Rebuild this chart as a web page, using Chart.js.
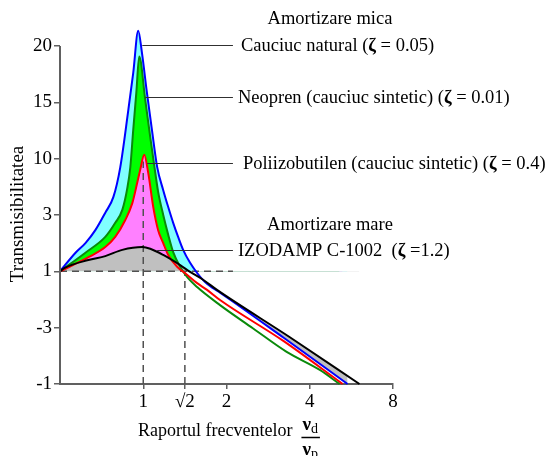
<!DOCTYPE html>
<html><head><meta charset="utf-8">
<script src="https://cdn.jsdelivr.net/npm/chart.js@4.4.0/dist/chart.umd.min.js"></script>
<style>html,body{margin:0;padding:0;background:#fff;}#wrap{width:554px;height:456px;position:relative;}</style>
</head><body><div id="wrap"><canvas id="c" width="554" height="456"></canvas></div>
<script>
// ---- tick labels ----
const yTickLabels = ['-1', '-3', '1', '3', '10', '15', '20'];
const xTickValues = [1, Math.SQRT2, 2, 4, 8];
const xTickLabels = ['1', '√2', '2', '4', '8'];

// ---- series (x = frequency ratio, y = position on the transmissibility axis) ----
const blueX = [0.5, 0.569, 0.618, 0.671, 0.729, 0.78, 0.826, 0.883, 0.92, 0.959, 0.989, 1.031, 1.075, 1.123, 1.181, 1.231, 1.283, 1.337, 1.394, 1.477, 1.566, 1.673, 1.788, 1.895, 3.22, 5.48];
const blueY = [2.0, 2.33, 2.5, 2.73, 3.04, 3.32, 3.85, 4.86, 5.52, 6.27, 5.88, 5.17, 4.51, 3.85, 3.44, 3.14, 2.86, 2.61, 2.38, 2.15, 1.97, 1.81, 1.70, 1.62, 0.82, 0.0];

const greenX = [0.5, 0.618, 0.729, 0.792, 0.84, 0.876, 0.898, 0.92, 0.944, 0.967, 1.017, 1.06, 1.095, 1.132, 1.181, 1.231, 1.283, 1.359, 1.44, 1.566, 1.895, 2.49, 3.30, 4.35, 5.13];
const greenY = [2.0, 2.33, 2.61, 2.86, 3.09, 3.48, 3.85, 4.51, 5.17, 5.81, 5.04, 4.38, 3.89, 3.41, 3.0, 2.65, 2.34, 2.08, 1.90, 1.72, 1.40, 0.99, 0.57, 0.25, 0.0];

const redX = [0.5, 0.634, 0.729, 0.792, 0.861, 0.913, 0.951, 0.975, 1.008, 1.042, 1.087, 1.132, 1.181, 1.231, 1.326, 1.44, 1.566, 1.701, 1.895, 3.22, 5.26];
const redY = [2.0, 2.25, 2.43, 2.61, 2.91, 3.21, 3.57, 3.80, 4.07, 3.75, 3.14, 2.73, 2.50, 2.29, 2.08, 1.94, 1.79, 1.67, 1.49, 0.76, 0.0];

const blackX = [0.5, 0.52, 0.633, 0.729, 0.84, 0.992, 1.06, 1.181, 1.36, 1.477, 1.645, 1.848, 3.39, 6.05];
const blackY = [2.0, 2.06, 2.20, 2.27, 2.38, 2.43, 2.40, 2.29, 2.11, 1.99, 1.85, 1.67, 0.83, 0.0];

// reference (dashed) lines
const unityLevel = 2;          // position of the "1" tick
const unityLineEndX = 2.11;
const resonanceX = 1;
const resonanceTopY = 3.95;
const crossoverX = Math.SQRT2;

// annotations
const labelLevels = [6.02, 5.10, 3.92, 2.38];
const labelStartX = [0.992, 1.017, 1.034, 1.123];
const labelEndX = 2.11;
const labelParts = [
  [['Cauciuc natural (', 'n'], ['ζ', 'b'], [' = 0.05)', 'n']],
  [['Neopren (cauciuc sintetic) (', 'n'], ['ζ', 'b'], [' = 0.01)', 'n']],
  [['Poliizobutilen (cauciuc sintetic) (', 'n'], ['ζ', 'b'], [' = 0.4)', 'n']],
  [['IZODAMP C-1002  (', 'n'], ['ζ', 'b'], [' =1.2)', 'n']]
];
const groupTitles = ['Amortizare mica', 'Amortizare mare'];
const yTitle = 'Transmisibilitatea';
const xTitle = 'Raportul frecventelor';

// ---- styles ----
const FONT = '"Liberation Serif", "Times New Roman", serif';
const AXIS = '#606060';
const pts = (xs, ys) => xs.map((x, i) => ({x, y: ys[i]}));
const NONE = 'rgba(0,0,0,0)';

function fillDs(xs, ys, color, order, target) {
  return {
    data: pts(xs, ys), borderWidth: 0, borderColor: NONE, pointRadius: 0,
    cubicInterpolationMode: 'monotone', clip: false, order,
    fill: {target: target, above: color, below: NONE}, backgroundColor: color
  };
}
function lineDs(xs, ys, color, order) {
  return {
    data: pts(xs, ys), borderWidth: 2, borderColor: color, pointRadius: 0,
    cubicInterpolationMode: 'monotone', clip: false, order, fill: false
  };
}
function dashDs(data) {
  return {data, borderWidth: 1.5, borderColor: '#505050', borderDash: [7, 5], pointRadius: 0, fill: false, order: 50, clip: false};
}

function drawRich(ctx, parts, x, y, size, align) {
  let w = 0;
  parts.forEach(([t, s]) => { ctx.font = (s === 'b' ? 'bold ' : '') + size + 'px ' + FONT; w += ctx.measureText(t).width; });
  let cx = align === 'center' ? x - w / 2 : x;
  parts.forEach(([t, s]) => {
    ctx.font = (s === 'b' ? 'bold ' : '') + size + 'px ' + FONT;
    ctx.fillText(t, cx, y);
    cx += ctx.measureText(t).width;
  });
  return w;
}

const annot = {
  id: 'annot',
  afterDatasetsDraw(chart) {
    const {ctx, scales: {x, y}} = chart;
    ctx.save();
    // y axis line (from -1 to 20)
    ctx.strokeStyle = AXIS; ctx.lineWidth = 2;
    ctx.beginPath();
    ctx.moveTo(x.left, y.getPixelForValue(0) + 1);
    ctx.lineTo(x.left, y.getPixelForValue(6));
    ctx.stroke();
    // leader lines + labels
    ctx.fillStyle = '#000';
    ctx.textBaseline = 'middle';
    const offs = [8, 5, 10, 5];
    labelLevels.forEach((lv, i) => {
      const py = Math.round(y.getPixelForValue(lv)) + 0.5;
      const x0 = x.getPixelForValue(labelStartX[i]);
      const x1 = x.getPixelForValue(labelEndX);
      ctx.strokeStyle = '#303030'; ctx.lineWidth = 1.2;
      ctx.beginPath(); ctx.moveTo(x0, py); ctx.lineTo(x1, py); ctx.stroke();
      drawRich(ctx, labelParts[i], x1 + offs[i], py + 1, 18.5, 'left');
    });
    drawRich(ctx, [[groupTitles[0], 'n']], 330, 19, 18.5, 'center');
    drawRich(ctx, [[groupTitles[1], 'n']], 330, 225, 18.5, 'center');
    // y title
    ctx.save();
    ctx.translate(18, 214);
    ctx.rotate(-Math.PI / 2);
    ctx.textAlign = 'center';
    ctx.font = '19px ' + FONT;
    ctx.fillText(yTitle, 0, 0);
    ctx.restore();
    // x title + fraction
    ctx.textBaseline = 'alphabetic';
    ctx.textAlign = 'left';
    ctx.font = '18px ' + FONT;
    ctx.fillText(xTitle, 138, 436);
    const fx = 138 + ctx.measureText(xTitle).width + 10;
    ctx.font = 'bold 19px ' + FONT;
    const nw = ctx.measureText('ν').width;
    ctx.fillText('ν', fx, 430);
    ctx.font = '14px ' + FONT;
    const dw = ctx.measureText('d').width;
    ctx.fillText('d', fx + nw, 433);
    ctx.strokeStyle = '#000'; ctx.lineWidth = 1.5;
    ctx.beginPath(); ctx.moveTo(fx - 1, 437.5); ctx.lineTo(fx + nw + dw + 2, 437.5); ctx.stroke();
    ctx.font = 'bold 19px ' + FONT;
    ctx.fillText('ν', fx, 455);
    ctx.font = '14px ' + FONT;
    ctx.fillText('p', fx + nw, 458);
    ctx.restore();
  }
};

new Chart(document.getElementById('c'), {
  type: 'line',
  data: {
    datasets: [
      fillDs(blueX, blueY, '#80ffff', 100, {value: unityLevel}),
      fillDs(greenX, greenY, '#00ff00', 99, {value: unityLevel}),
      fillDs(redX, redY, '#ff80ff', 98, {value: unityLevel}),
      fillDs(blackX, blackY, '#c0c0c0', 97, {value: unityLevel}),
      fillDs(blackX, blackY, '#c0c0c0', 96, 0),
      dashDs([{x: 0.5, y: unityLevel}, {x: unityLineEndX, y: unityLevel}]),
      dashDs([{x: resonanceX, y: 0}, {x: resonanceX, y: resonanceTopY}]),
      dashDs([{x: crossoverX, y: 0}, {x: crossoverX, y: unityLevel}]),
      lineDs(greenX, greenY, '#0a8a0a', 10),
      lineDs(redX, redY, '#ff0000', 9),
      lineDs(blueX, blueY, '#0000ff', 8),
      lineDs(blackX, blackY, '#000000', 7)
    ]
  },
  options: {
    responsive: false, animation: false, devicePixelRatio: 1,
    layout: {padding: {left: 0, right: 161, top: 29, bottom: 0}},
    plugins: {legend: {display: false}, tooltip: {enabled: false}},
    scales: {
      x: {
        type: 'logarithmic', min: 0.5, max: 8, position: 'bottom',
        afterBuildTicks: s => { s.ticks = xTickValues.map(v => ({value: v})); },
        afterFit: s => { s.height = 72; },
        ticks: {callback: (v, i) => xTickLabels[i], autoSkip: false, maxRotation: 0, minRotation: 0,
          color: '#000', font: {family: FONT, size: 19}, padding: 2},
        grid: {drawOnChartArea: false, drawTicks: true, tickLength: 5, color: AXIS, lineWidth: 1.5},
        border: {display: true, color: AXIS, width: 2}
      },
      y: {
        type: 'linear', min: 0, max: 6.3,
        afterBuildTicks: s => { s.ticks = yTickLabels.map((_, i) => ({value: i})); },
        afterFit: s => { s.width = 60; },
        ticks: {callback: (v, i) => yTickLabels[i], color: '#000', font: {family: FONT, size: 19}, padding: 2},
        grid: {drawOnChartArea: false, drawTicks: true, tickLength: 6, color: AXIS, lineWidth: 1.5},
        border: {display: false}
      }
    }
  },
  plugins: [annot]
});
</script></body></html>
